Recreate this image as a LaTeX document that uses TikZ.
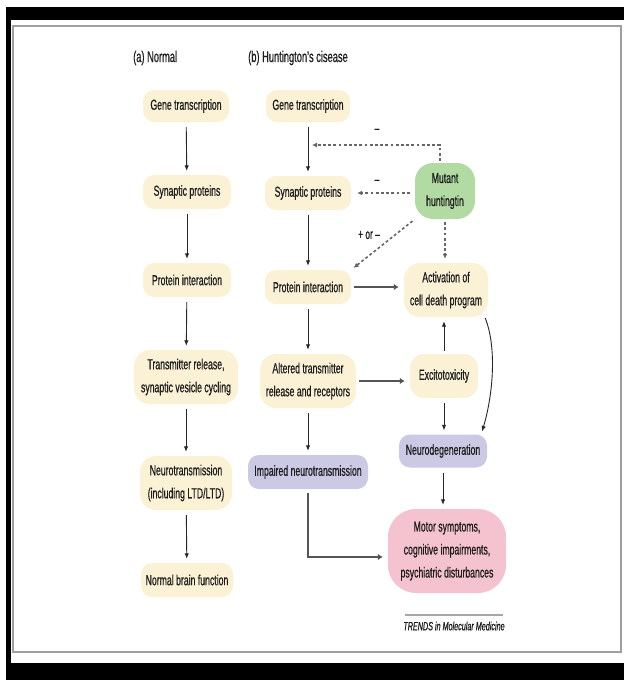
\documentclass[tikz,border=0pt]{standalone}
\usepackage{fontspec}
\setmainfont{Liberation Sans}[FakeStretch=0.6,FakeBold=0.7]
\usetikzlibrary{arrows.meta}
\definecolor{cream}{HTML}{FBF2D6}
\definecolor{mgreen}{HTML}{B2DAA3}
\definecolor{lav}{HTML}{CCC9E5}
\definecolor{mpink}{HTML}{F5C3CF}
\definecolor{txt}{HTML}{1E1E1E}
\definecolor{thick}{HTML}{555555}
\definecolor{dash}{HTML}{666666}
\begin{document}
\begin{tikzpicture}[x=1pt,y=-1pt,
  box/.style={fill=cream, rounded corners=11pt, align=center, inner sep=2pt,
    font=\fontsize{14.5}{23}\selectfont, text=txt},
  thin/.style={draw=black!85, line width=0.9pt, -{Latex[length=5.5pt,width=4.5pt]},
    shorten <=5pt, shorten >=4pt},
  heavy/.style={draw=thick, line width=2.4pt, -{Latex[length=5pt,width=6.5pt]},
    shorten <=3pt, shorten >=5pt},
  dsh/.style={draw=dash, line width=1.6pt, dash pattern=on 2.8pt off 2.4pt,
    -{Latex[length=5pt,width=5pt]}},
  hdr/.style={font=\fontsize{15.5}{18}\selectfont, text=txt, anchor=west, inner sep=0pt},
  lbl/.style={font=\fontsize{14}{16}\selectfont, text=txt, inner sep=0pt}
]
\useasboundingbox (0,0) rectangle (624,680);
\fill[white] (0,0) rectangle (624,680);
% frame
\fill[black] (6,7) rectangle (624,20);
\fill[black] (6,7) rectangle (11,680);
\fill[black] (6,663) rectangle (624,680);
\draw[gray!75, line width=1.6pt] (13,26) rectangle (621,652);

% headers
\node[hdr] (ha) at (133,58) {(a) Normal};
\node[hdr] (hb) at (248,58) {(b) Huntington's cisease};

% column a
\node[box, minimum width=86pt, minimum height=32pt] (ga) at (186,106) {Gene transcription};
\node[box, minimum width=88pt, minimum height=34pt] (sa) at (187,192) {Synaptic proteins};
\node[box, minimum width=88pt, minimum height=34pt] (pa) at (187,280) {Protein interaction};
\node[box, minimum width=104pt, minimum height=54pt, rounded corners=16pt] (ta) at (186,377) {Transmitter release,\\synaptic vesicle cycling};
\node[box, minimum width=92pt, minimum height=54pt, rounded corners=16pt] (na) at (186,483) {Neurotransmission\\(including LTD/LTD)};
\node[box, minimum width=92pt, minimum height=34pt] (ba) at (187,580) {Normal brain function};

% column b
\node[box, minimum width=84pt, minimum height=32pt] (gb) at (308,106) {Gene transcription};
\node[box, minimum width=86pt, minimum height=34pt] (sb) at (308,193) {Synaptic proteins};
\node[box, minimum width=86pt, minimum height=34pt] (pb) at (308,287) {Protein interaction};
\node[box, minimum width=96pt, minimum height=54pt, rounded corners=16pt] (ab) at (308,381) {Altered transmitter\\release and receptors};
\node[box, fill=lav, minimum width=120pt, minimum height=34pt] (ib) at (308,472) {Impaired neurotransmission};

% column c
\node[box, fill=mgreen, minimum width=60pt, minimum height=56pt, rounded corners=18pt] (mh) at (445,191) {Mutant\\huntingtin};
\node[box, minimum width=84pt, minimum height=54pt, rounded corners=16pt] (ac) at (446,290) {Activation of\\cell death program};
\node[box, minimum width=68pt, minimum height=44pt, rounded corners=14pt] (ex) at (444,376) {Excitotoxicity};
\node[box, fill=lav, minimum width=88pt, minimum height=33pt] (nd) at (443,451) {Neurodegeneration};
\node[box, fill=mpink, minimum width=118pt, minimum height=84pt, rounded corners=28pt] (ms) at (447,551) {Motor symptoms,\\cognitive impairments,\\psychiatric disturbances};

% column a arrows
\draw[thin] (ga) -- (sa);
\draw[thin] (sa) -- (pa);
\draw[thin] (pa) -- (ta);
\draw[thin] (ta) -- (na);
\draw[thin] (na) -- (ba);

% column b arrows
\draw[thin] (gb) -- (sb);
\draw[thin] (sb) -- (pb);
\draw[thin] (pb) -- (ab);
\draw[thin] (ab) -- (ib);

% dashed influences of mutant huntingtin
\coordinate (g2s) at (312,145);
\draw[dsh, shorten <=2pt] ([xshift=-5pt]mh.north) |- (g2s);
\node[lbl] (m1) at (377,131) {--};
\draw[dsh, shorten <=5pt, shorten >=6pt] (mh.west |- sb) -- (sb.east);
\node[lbl] (m2) at (377,182) {--};
\draw[dsh, shorten <=3pt, shorten >=3pt] (mh.south west) -- (pb.north east);
\node[lbl] (m3) at (369,235) {+ or --};
\draw[dsh, shorten <=3pt, shorten >=4pt] (mh.south) -- (mh.south |- ac.north);

% heavy arrows
\draw[heavy] (pb.east) -- (pb.east -| ac.west);
\draw[heavy] (ab.east) -- (ab.east -| ex.west);
\draw[heavy, shorten <=4pt] (ib.south) |- ([yshift=-6pt]ms.west);

% column c arrows
\draw[thin, shorten <=3pt] (ex.north) -- (ex.north |- ac.south);
\draw[thin] (ex.south) -- (ex.south |- nd.north);
\draw[thin] (nd.south) -- (nd.south |- ms.north);
\draw[thin, shorten <=1pt, shorten >=3pt] (ac.-35) .. controls +(12,30) and +(12,-40) .. ([xshift=-6pt]nd.north east);

% credit
\draw[gray!70, line width=1.6pt] (405,615) -- (503,615);
\node[font=\fontsize{12}{14}\selectfont\itshape, text=txt, inner sep=0pt] (cr) at (454,626) {TRENDS in Molecular Medicine};
\end{tikzpicture}
\end{document}
